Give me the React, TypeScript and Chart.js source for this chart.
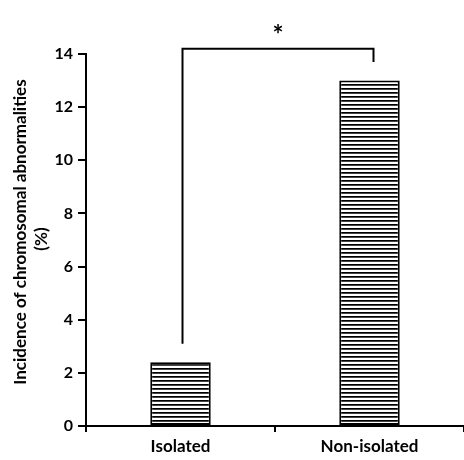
import React, { useEffect, useRef } from "react";
import { Chart, registerables } from "chart.js";

Chart.register(...registerables);

const categories = ["Isolated", "Non-isolated"];
const incidence = [2.4, 13];
const yMin = 0;
const yMax = 14;
const yStep = 2;
const yTitleLines = ["Incidence of chromosomal abnormalities", "(%)"];
const significance = "*";
const bracketTopValue = 14.2;
const bracketLegGap = 0.7;

const FONT = "Lato, 'Open Sans', sans-serif";

function makeStripePattern(): CanvasPattern | string {
  const c = document.createElement("canvas");
  c.width = 8;
  c.height = 4;
  const g = c.getContext("2d");
  if (!g) return "#000";
  g.fillStyle = "#ffffff";
  g.fillRect(0, 0, 8, 4);
  g.fillStyle = "#000000";
  g.fillRect(0, 0, 8, 1);
  g.fillStyle = "#444444";
  g.fillRect(0, 1, 8, 1);
  const p = g.createPattern(c, "repeat");
  return p || "#000";
}

const annotationPlugin = {
  id: "annotations",
  afterDraw(chart: any) {
    const ctx = chart.ctx as CanvasRenderingContext2D;
    const x = chart.scales.x;
    const y = chart.scales.y;
    const area = chart.chartArea;

    // y-axis title, two lines
    const midY = (area.top + area.bottom) / 2;
    ctx.save();
    ctx.fillStyle = "#000";
    ctx.textAlign = "center";
    ctx.textBaseline = "middle";
    ctx.translate(21, midY - 8);
    ctx.rotate(-Math.PI / 2);
    ctx.font = `bold 17px ${FONT}`;
    ctx.fillText(yTitleLines[0], 0, 0);
    ctx.restore();

    ctx.save();
    ctx.fillStyle = "#000";
    ctx.textAlign = "center";
    ctx.textBaseline = "middle";
    ctx.translate(42, midY - 1);
    ctx.rotate(-Math.PI / 2);
    ctx.font = `bold 17px ${FONT}`;
    ctx.fillText(yTitleLines[1], 0, 0);
    ctx.restore();

    // significance bracket between the two bars
    const x0 = x.getPixelForValue(0) + 2;
    const x1 = x.getPixelForValue(1) + 4;
    const yTop = y.getPixelForValue(bracketTopValue);
    const y0 = y.getPixelForValue(incidence[0] + bracketLegGap);
    const y1 = y.getPixelForValue(incidence[1] + bracketLegGap);
    ctx.save();
    ctx.strokeStyle = "#000";
    ctx.lineWidth = 2;
    ctx.beginPath();
    ctx.moveTo(x0, y0);
    ctx.lineTo(x0, yTop);
    ctx.lineTo(x1, yTop);
    ctx.lineTo(x1, y1);
    ctx.stroke();
    ctx.fillStyle = "#000";
    ctx.font = `bold 26px ${FONT}`;
    ctx.textAlign = "center";
    ctx.textBaseline = "middle";
    ctx.fillText(significance, (x0 + x1) / 2, yTop - 13);
    ctx.restore();
  },
};

export default function App() {
  const ref = useRef<HTMLCanvasElement | null>(null);

  useEffect(() => {
    if (!ref.current) return;
    const pattern = makeStripePattern();
    const chart = new Chart(ref.current, {
      type: "bar",
      data: {
        labels: categories,
        datasets: [
          {
            data: incidence,
            backgroundColor: pattern as any,
            borderColor: "#000",
            borderWidth: 2,
            borderSkipped: false,
            barPercentage: 0.32,
            categoryPercentage: 1,
          },
        ],
      },
      options: {
        responsive: false,
        animation: false,
        layout: { padding: { top: 54, right: 0, bottom: 0, left: 0 } },
        plugins: {
          legend: { display: false },
          tooltip: { enabled: false },
          title: { display: false },
        },
        scales: {
          x: {
            offset: true,
            grid: {
              offset: true,
              drawOnChartArea: false,
              drawTicks: true,
              tickLength: 6,
              color: "#000",
              lineWidth: 2,
            },
            border: { display: true, color: "#000", width: 2 },
            ticks: {
              color: "#000",
              font: { family: FONT, size: 17, weight: "bold" },
              padding: 4,
            },
            afterFit: (s: any) => {
              s.height = 34;
            },
          },
          y: {
            min: yMin,
            max: yMax,
            grid: {
              drawOnChartArea: false,
              drawTicks: true,
              tickLength: 8,
              color: "#000",
              lineWidth: 2,
            },
            border: { display: true, color: "#000", width: 2 },
            ticks: {
              stepSize: yStep,
              color: "#000",
              font: { family: FONT, size: 16, weight: "bold" },
              padding: 5,
            },
            afterFit: (s: any) => {
              s.width = 86;
            },
          },
        },
      },
      plugins: [annotationPlugin],
    });
    return () => chart.destroy();
  }, []);

  return (
    <div
      style={{
        position: "fixed",
        left: 0,
        top: 0,
        width: 464,
        height: 460,
        background: "#fff",
      }}
    >
      <canvas ref={ref} width={464} height={460} />
    </div>
  );
}
